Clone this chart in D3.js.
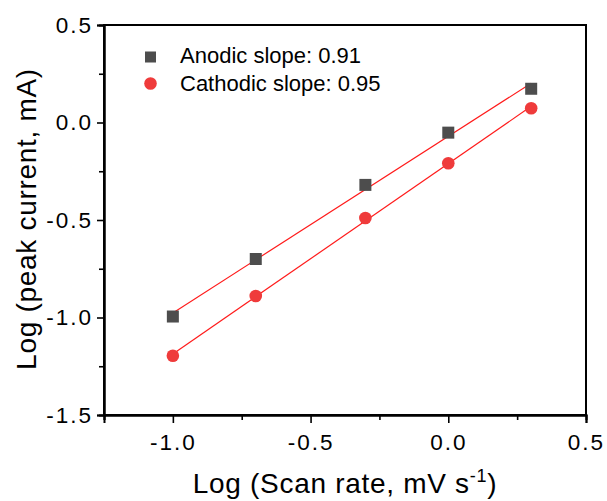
<!DOCTYPE html>
<html>
<head>
<meta charset="utf-8">
<script src="https://cdn.jsdelivr.net/npm/d3@7"></script>
<style>
  body { margin: 0; background: #fff; }
  text { font-family: "Liberation Sans", Arial, sans-serif; fill: #000; }
</style>
</head>
<body>
<div id="chart"></div>
<script>
// log of scan rate (0.1, 0.2, 0.5, 1, 2 mV/s)
var logRate = [-1.0, -0.699, -0.301, 0.0, 0.301];
var anodic = [-0.995, -0.70, -0.32, -0.052, 0.173];
var cathodic = [-1.196, -0.89, -0.49, -0.209, 0.073];
var seriesNames = ["Anodic slope: 0.91", "Cathodic slope: 0.95"];
var xTicks = [-1.0, -0.5, 0.0, 0.5];
var yTicks = [0.5, 0.0, -0.5, -1.0, -1.5];

var W = 607, H = 501;
var mLeft = 104, mRight = 586, mTop = 25, mBottom = 415;

var svg = d3.select("#chart").append("svg")
    .attr("width", W)
    .attr("height", H);

var x = d3.scaleLinear().domain([-1.25, 0.5]).range([mLeft, mRight]);
var y = d3.scaleLinear().domain([-1.5, 0.5]).range([mBottom, mTop]);

// plain hyphen like the original, not the unicode minus
var fmt = function(d) { return d.toFixed(1); };

// least squares fit
function fit(xs, ys) {
  var mx = d3.mean(xs), my = d3.mean(ys);
  var sxy = d3.sum(xs, function(d, i) { return (d - mx) * (ys[i] - my); });
  var sxx = d3.sum(xs, function(d) { return (d - mx) * (d - mx); });
  var b = sxy / sxx;
  return function(v) { return my + b * (v - mx); };
}

// frame
svg.append("rect")
    .attr("x", mLeft).attr("y", mTop)
    .attr("width", mRight - mLeft).attr("height", mBottom - mTop)
    .attr("fill", "none").attr("stroke", "#000").attr("stroke-width", 2);

// x axis
var xMinor = [-1.25, -0.75, -0.25, 0.25];
var xg = svg.append("g").attr("transform", "translate(0," + mBottom + ")");
xg.call(d3.axisBottom(x).tickValues(xTicks).tickSize(8).tickPadding(6).tickFormat(fmt));
svg.append("g").attr("transform", "translate(0," + mBottom + ")")
    .call(d3.axisBottom(x).tickValues(xMinor).tickSize(5).tickFormat(""));

// y axis
var yMinor = [0.25, -0.25, -0.75, -1.25];
var yg = svg.append("g").attr("transform", "translate(" + mLeft + ",0)");
yg.call(d3.axisLeft(y).tickValues(yTicks).tickSize(7).tickPadding(4).tickFormat(fmt));
svg.append("g").attr("transform", "translate(" + mLeft + ",0)")
    .call(d3.axisLeft(y).tickValues(yMinor).tickSize(5).tickFormat(""));

svg.selectAll(".domain").attr("stroke", "#000").attr("stroke-width", 2);
svg.selectAll(".tick line").attr("stroke", "#000").attr("stroke-width", 1.6);
svg.selectAll(".tick text")
    .style("font-size", "22.5px")
    .style("letter-spacing", "2px")
    .attr("fill", "#000");
xg.selectAll(".tick text").attr("dy", "0.95em");

// fit lines
var lineGen = d3.line().x(function(d) { return x(d[0]); }).y(function(d) { return y(d[1]); });
[anodic, cathodic].forEach(function(ys) {
  var f = fit(logRate, ys);
  var ends = d3.extent(logRate);
  svg.append("path")
      .attr("d", lineGen(ends.map(function(v) { return [v, f(v)]; })))
      .attr("fill", "none")
      .attr("stroke", "#ff1a1a")
      .attr("stroke-width", 1.2);
});

// markers
var sq = 12;
svg.append("g").selectAll("rect")
    .data(logRate)
    .join("rect")
    .attr("x", function(d) { return x(d) - sq / 2; })
    .attr("y", function(d, i) { return y(anodic[i]) - sq / 2; })
    .attr("width", sq).attr("height", sq)
    .attr("fill", "#4d4d4d");

svg.append("g").selectAll("circle")
    .data(logRate)
    .join("circle")
    .attr("cx", function(d) { return x(d); })
    .attr("cy", function(d, i) { return y(cathodic[i]); })
    .attr("r", 6.3)
    .attr("fill", "#ef3b3b");

// legend
var lg = svg.append("g");
lg.append("rect").attr("x", 145).attr("y", 51.5).attr("width", 11).attr("height", 11).attr("fill", "#4d4d4d");
lg.append("circle").attr("cx", 150.5).attr("cy", 83.5).attr("r", 6.3).attr("fill", "#ef3b3b");
lg.selectAll("text")
    .data(seriesNames)
    .join("text")
    .attr("x", 180)
    .attr("y", function(d, i) { return 62.5 + i * 28; })
    .style("font-size", "22px")
    .text(function(d) { return d; });

// axis titles
var xt = svg.append("text")
    .attr("x", (mLeft + mRight) / 2)
    .attr("y", 493)
    .attr("text-anchor", "middle")
    .style("font-size", "28px")
    .style("letter-spacing", "0.7px");
xt.append("tspan").text("Log (Scan rate, mV s");
xt.append("tspan").attr("dy", -11).style("font-size", "18px").text("-1");
xt.append("tspan").attr("dy", 11).text(")");

svg.append("text")
    .attr("transform", "translate(36," + ((mTop + mBottom) / 2 - 1) + ") rotate(-90)")
    .attr("text-anchor", "middle")
    .style("font-size", "28px")
    .style("letter-spacing", "0.7px")
    .text("Log (peak current, mA)");
</script>
</body>
</html>
